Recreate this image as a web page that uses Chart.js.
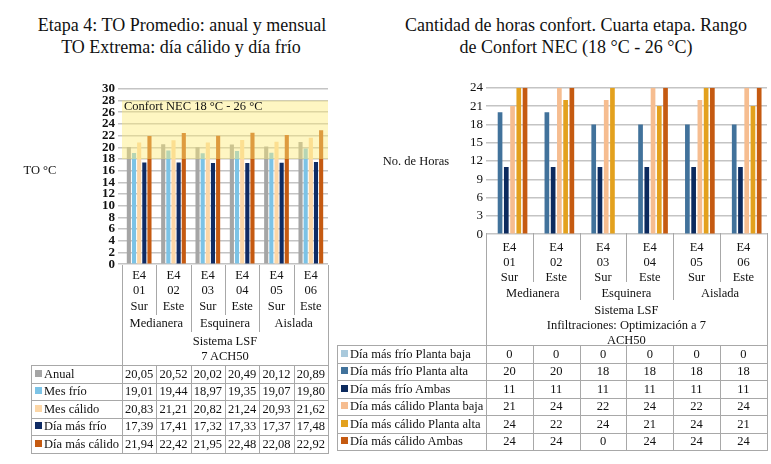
<!DOCTYPE html>
<html>
<head>
<meta charset="utf-8">
<script src="https://cdn.jsdelivr.net/npm/chart.js@4/dist/chart.umd.min.js"></script>
<style>
    body { margin: 0; background: #fff; }
    #page { position: relative; width: 771px; height: 464px; font-family: 'Liberation Serif', 'Times New Roman', serif; color: #111; overflow: hidden; }
    canvas { position: absolute; }
</style>
</head>
<body>
<div id="page">
    <canvas id="chartTemp" width="332" height="197" style="left:0;top:78px"></canvas>
    <canvas id="chartHoras" width="391" height="168" style="left:380px;top:77px"></canvas>
</div>
<script>
// Categories
const casos = ['01', '02', '03', '04', '05', '06'];
const orientaciones = ['Sur', 'Este', 'Sur', 'Este', 'Sur', 'Este'];
const tipologias = ['Medianera', 'Esquinera', 'Aislada'];

// Left chart: TO (°C)
const anual = [20.05, 20.52, 20.02, 20.49, 20.12, 20.89];
const mesFrio = [19.01, 19.44, 18.97, 19.35, 19.07, 19.80];
const mesCalido = [20.83, 21.21, 20.82, 21.24, 20.93, 21.62];
const diaMasFrio = [17.39, 17.41, 17.32, 17.33, 17.37, 17.48];
const diaMasCalido = [21.94, 22.42, 21.95, 22.48, 22.08, 22.92];
const confortMin = 18;
const bandMax = 28;
const tempTicks = { min: 0, max: 30, step: 2 };

// Right chart: horas de confort
const frioBaja = [0, 0, 0, 0, 0, 0];
const frioAlta = [20, 20, 18, 18, 18, 18];
const frioAmbas = [11, 11, 11, 11, 11, 11];
const calidoBaja = [21, 24, 22, 24, 22, 24];
const calidoAlta = [24, 22, 24, 21, 24, 21];
const calidoAmbas = [24, 24, 0, 24, 24, 24];
const horasTicks = { min: 0, max: 24, step: 3 };

const serif = "'Liberation Serif', 'Times New Roman', serif";
const lineColor = '#a8a8a8';
const gridColor = '#c4c4c4';

const tempSeries = [
    { label: 'Anual', data: anual, color: '#a5a5a5' },
    { label: 'Mes frío', data: mesFrio, color: '#7cc3e6' },
    { label: 'Mes cálido', data: mesCalido, color: '#fcd6a6' },
    { label: 'Día más frío', data: diaMasFrio, color: '#0f2b64' },
    { label: 'Día más cálido', data: diaMasCalido, color: '#c55a11' }
];

const horasSeries = [
    { label: 'Día más frío Planta baja', data: frioBaja, color: '#a9c9dc' },
    { label: 'Día más frío Planta alta', data: frioAlta, color: '#41729b' },
    { label: 'Día más frío Ambas', data: frioAmbas, color: '#0c2a5e' },
    { label: 'Día más cálido Planta baja', data: calidoBaja, color: '#f6bd90' },
    { label: 'Día más cálido Planta alta', data: calidoAlta, color: '#e3a11e' },
    { label: 'Día más cálido Ambas', data: calidoAmbas, color: '#c55a11' }
];

Chart.defaults.font.family = serif;
Chart.defaults.color = '#111';

const page = document.getElementById('page');

function addText(str, x, y, opts = {}) {
    const d = document.createElement('div');
    d.textContent = str;
    const tx = opts.align === 'left' ? '0' : '-50%';
    d.style.cssText = `position:absolute;left:${x}px;top:${y}px;font-size:${opts.size || 12.5}px;` +
        `font-weight:${opts.weight || 'normal'};white-space:nowrap;line-height:1;transform:translate(${tx},-50%);`;
    page.appendChild(d);
}

function addLine(x1, y1, x2, y2) {
    const d = document.createElement('div');
    d.style.cssText = `position:absolute;left:${Math.round(x1)}px;top:${Math.round(y1)}px;` +
        `width:${Math.max(1, Math.round(x2 - x1))}px;height:${Math.max(1, Math.round(y2 - y1))}px;background:${lineColor};`;
    page.appendChild(d);
}

function addSwatch(x, y, color) {
    const d = document.createElement('div');
    d.style.cssText = `position:absolute;left:${x}px;top:${y - 4}px;width:7px;height:7px;background:${color};`;
    page.appendChild(d);
}

// Category header + data table under a chart
function buildTable(t, series, fmt) {
    const right = t.x0 + t.colW * 6;
    const bottom = t.headBottom + t.rowH * series.length;
    casos.forEach((c, i) => {
        const cx = t.x0 + t.colW * (i + 0.5);
        addText('E4', cx, t.yE4);
        addText(c, cx, t.yNum);
        addText(orientaciones[i], cx, t.yOri);
    });
    tipologias.forEach((g, i) => addText(g, t.x0 + t.colW * (2 * i + 1), t.yGrp));
    t.sistema.forEach((s, i) => addText(s, t.x0 + t.colW * 3, t.ySis + i * t.sisStep));

    addLine(t.x0, t.headTop, t.x0 + 1, bottom);
    addLine(right, t.headTop, right + 1, bottom + 1);
    for (let i = 1; i < 6; i++) {
        const x = t.x0 + t.colW * i;
        addLine(x, t.headTop, x + 1, i % 2 ? t.catEnd : t.grpEnd);
        addLine(x, t.headBottom, x + 1, bottom);
    }
    addLine(t.legX, t.headBottom, t.legX + 1, bottom);
    for (let r = 0; r <= series.length; r++) {
        const y = t.headBottom + r * t.rowH;
        addLine(t.legX, y, right + 1, y + 1);
    }
    series.forEach((s, r) => {
        const cy = t.headBottom + t.rowH * (r + 0.5);
        addSwatch(t.legX + 4, cy, s.color);
        addText(s.label, t.legX + 13, cy, { align: 'left' });
        s.data.forEach((v, i) => addText(fmt(v), t.x0 + t.colW * (i + 0.5), cy));
    });
}

// Titles and axis titles
addText('Etapa 4: TO Promedio: anual y mensual', 182, 25, { size: 18 });
addText('TO Extrema: día cálido y día frío', 181, 47, { size: 18 });
addText('Cantidad de horas confort. Cuarta etapa. Rango', 576, 25, { size: 18 });
addText('de Confort NEC (18 °C - 26 °C)', 576, 47, { size: 18 });
addText('TO °C', 40, 170);
addText('No. de Horas', 416, 161);

buildTable({
    x0: 122, colW: 34.33, legX: 31, headTop: 265, headBottom: 365, rowH: 17.5,
    yE4: 275, yNum: 290, yOri: 306, yGrp: 323, ySis: 341, sisStep: 15,
    catEnd: 315, grpEnd: 332, sistema: ['Sistema LSF', '7 ACH50']
}, tempSeries, v => v.toFixed(2).replace('.', ','));

buildTable({
    x0: 486, colW: 46.8, legX: 337, headTop: 233, headBottom: 345, rowH: 17.5,
    yE4: 247, yNum: 262, yOri: 277, yGrp: 293, ySis: 310, sisStep: 15,
    catEnd: 282, grpEnd: 300, sistema: ['Sistema LSF', 'Infiltraciones: Optimización a 7', 'ACH50']
}, horasSeries, v => String(v));

// Comfort band overlay on the temperature chart
const confortBand = {
    id: 'confortBand',
    afterDatasetsDraw(chart) {
        const { ctx, chartArea: a, scales: { y } } = chart;
        const top = y.getPixelForValue(bandMax);
        const bot = y.getPixelForValue(confortMin);
        ctx.save();
        ctx.fillStyle = 'rgba(252, 236, 120, 0.45)';
        ctx.fillRect(a.left, top, a.right - a.left, bot - top);
        ctx.font = '12.5px ' + serif;
        ctx.fillStyle = '#111';
        ctx.textBaseline = 'middle';
        ctx.fillText('Confort NEC 18 °C - 26 °C', a.left + 2, y.getPixelForValue(27));
        ctx.restore();
    }
};

function makeChart(id, series, ticks, opts) {
    return new Chart(document.getElementById(id), {
        type: 'bar',
        data: {
            labels: casos,
            datasets: series.map(s => ({
                label: s.label,
                data: s.data,
                backgroundColor: s.color,
                categoryPercentage: opts.catPct,
                barPercentage: opts.barPct
            }))
        },
        options: {
            responsive: false,
            animation: false,
            devicePixelRatio: 1,
            layout: { padding: opts.padding },
            plugins: { legend: { display: false }, tooltip: { enabled: false } },
            scales: {
                x: { display: false },
                y: {
                    min: ticks.min,
                    max: ticks.max,
                    afterFit: scale => { scale.width = opts.axisWidth; },
                    border: { display: false },
                    grid: { color: gridColor, lineWidth: 1.5, tickLength: opts.tickLength },
                    ticks: {
                        stepSize: ticks.step,
                        autoSkip: false,
                        padding: 3,
                        color: '#111',
                        font: { size: 13, weight: opts.tickWeight, family: serif }
                    }
                }
            }
        },
        plugins: opts.plugins || []
    });
}

makeChart('chartTemp', tempSeries, tempTicks, {
    catPct: 0.75, barPct: 0.8, axisWidth: 122, tickLength: 4, tickWeight: 'bold',
    padding: { top: 0, right: 4, bottom: 0, left: 0 },
    plugins: [confortBand]
});

makeChart('chartHoras', horasSeries, horasTicks, {
    catPct: 0.8, barPct: 0.75, axisWidth: 106, tickLength: 0, tickWeight: 'normal',
    padding: { top: 0, right: 4, bottom: 0, left: 0 }
});
</script>
</body>
</html>
